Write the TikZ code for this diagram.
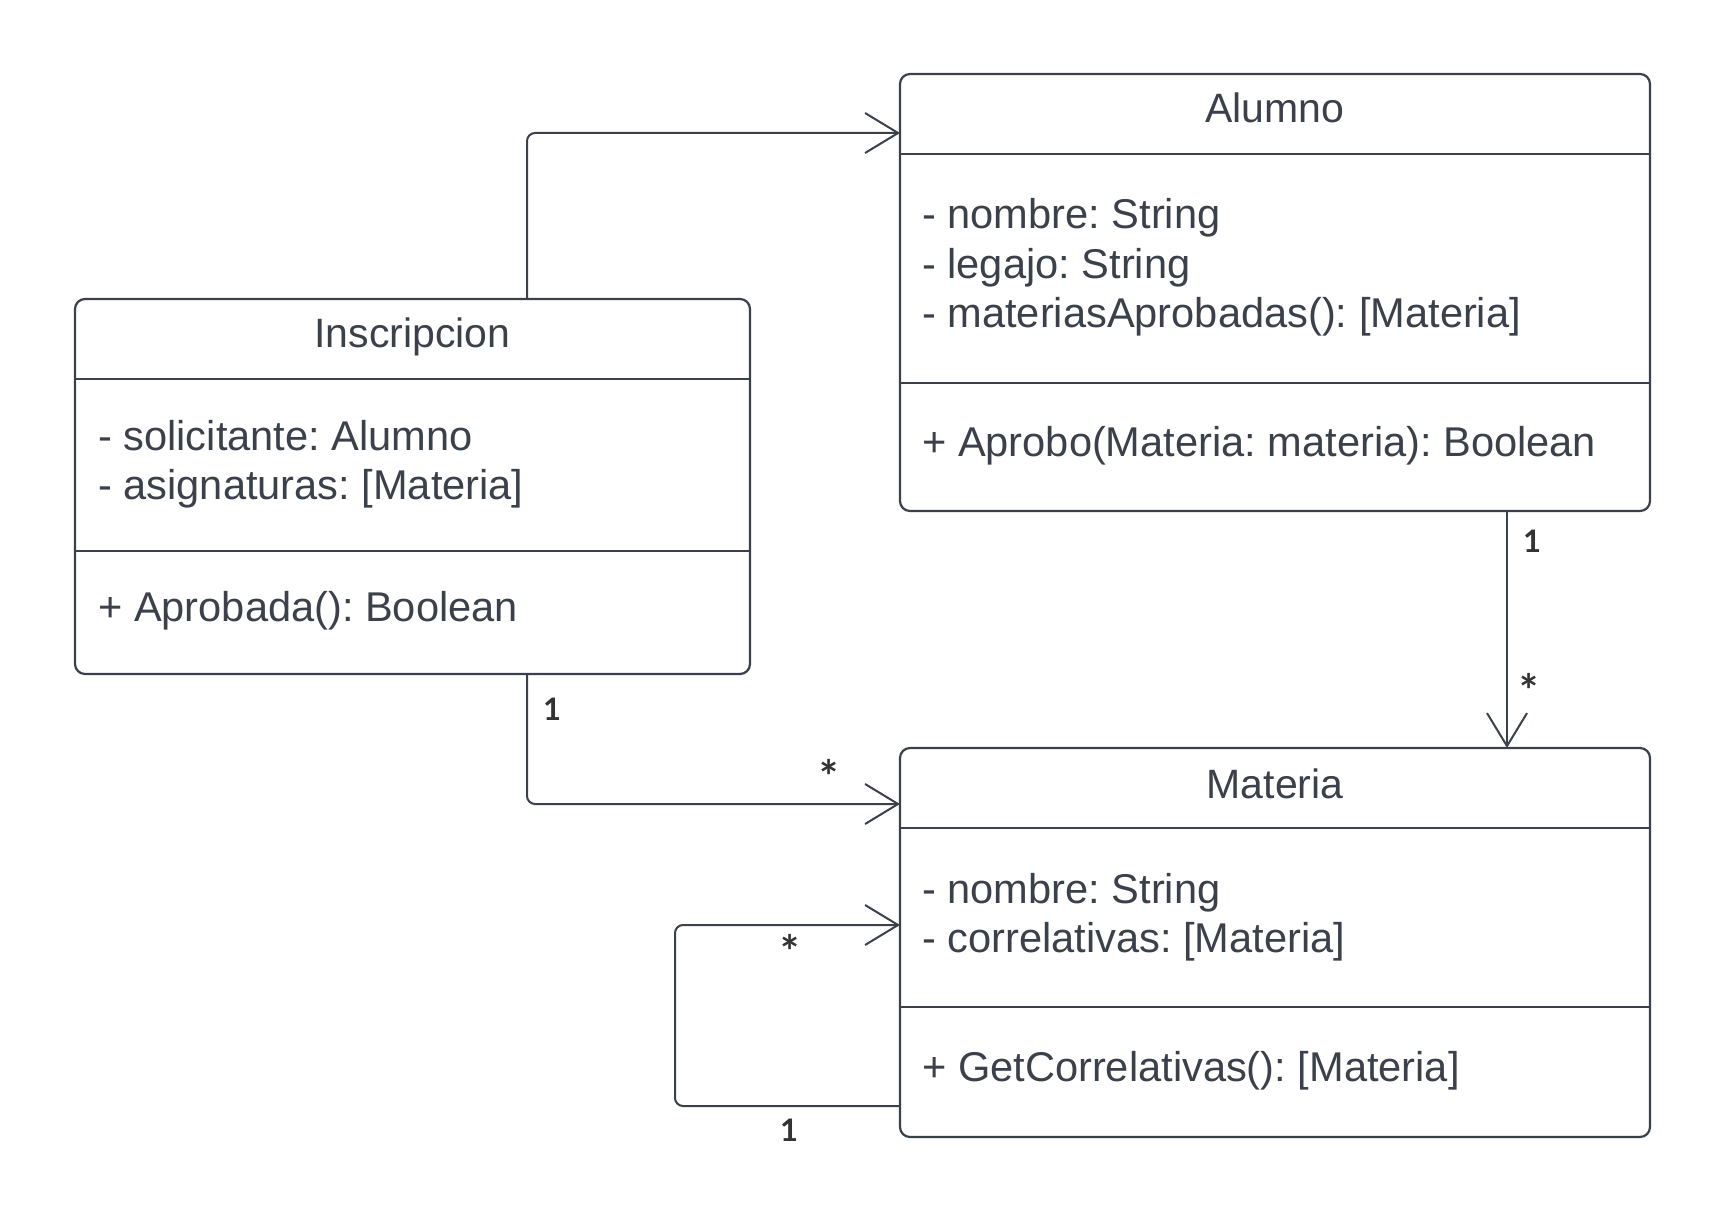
\documentclass[tikz,border=0pt]{standalone}
\usepackage{fontspec}
\setmainfont{Liberation Sans}
\newfontfamily\lblfont{Lato}
\frenchspacing
\usetikzlibrary{arrows.meta}
\definecolor{ink}{HTML}{3A414A}
\definecolor{lbl}{HTML}{333333}
\tikzset{
  classbox/.style={draw=ink, line width=2.2pt, rounded corners=10pt, inner sep=0pt, outer sep=0pt, anchor=north west, fill=white},
  hdrline/.style={draw=ink, line width=1.3pt},
  sepline/.style={draw=ink, line width=2pt},
  ttl/.style={anchor=base, inner sep=0pt, text=ink, font=\fontsize{41}{50}\selectfont},
  attr/.style={anchor=base west, inner sep=0pt, text=ink, font=\fontsize{41.6}{50}\selectfont},
  mult/.style={anchor=base, inner sep=0pt, text=lbl, font=\lblfont\bfseries\fontsize{31}{31}\selectfont},
  star/.style={anchor=base, inner sep=0pt, text=lbl, font=\lblfont\bfseries\fontsize{45}{45}\selectfont},
  assoc/.style={draw=ink, line width=2pt, rounded corners=8pt, -{Straight Barb[length=33pt,width=40pt,line width=2pt]}},
}
\begin{document}
\begin{tikzpicture}[x=1pt,y=-1pt]
\useasboundingbox (0,0) rectangle (1725,1228);
\fill[white] (0,0) rectangle (1725,1228);

% classes
\node[classbox, minimum width=750pt, minimum height=437pt] (alumno) at (900,74) {};
\node[classbox, minimum width=675pt, minimum height=375pt] (insc) at (75,299) {};
\node[classbox, minimum width=750pt, minimum height=389pt] (materia) at (900,748) {};

% helper coordinates
\coordinate (yA1) at (0,154); \coordinate (yA2) at (0,383);
\coordinate (yI1) at (0,379); \coordinate (yI2) at (0,551);
\coordinate (yM1) at (0,828); \coordinate (yM2) at (0,1007);

\draw[hdrline] (alumno.west |- yA1) -- (alumno.east |- yA1);
\draw[sepline] (alumno.west |- yA2) -- (alumno.east |- yA2);
\draw[hdrline] (insc.west |- yI1) -- (insc.east |- yI1);
\draw[sepline] (insc.west |- yI2) -- (insc.east |- yI2);
\draw[hdrline] (materia.west |- yM1) -- (materia.east |- yM1);
\draw[sepline] (materia.west |- yM2) -- (materia.east |- yM2);

% Alumno texts
\node[ttl] (alumnoT) at (1275,123) {Alumno};
\node[attr] (alumnoA1) at (922,228) {- nombre: String};
\node[attr] (alumnoA2) at (922,278) {- legajo: String};
\node[attr] (alumnoA3) at (922,327) {- materiasAprobadas(): [Materia]};
\node[attr] (alumnoM1) at (922,456) {+ Aprobo(Materia: materia): Boolean};

% Inscripcion texts
\node[ttl] (inscT) at (412.5,347) {Inscripcion};
\node[attr] (inscA1) at (98,450) {- solicitante: Alumno};
\node[attr] (inscA2) at (98,499) {- asignaturas: [Materia]};
\node[attr] (inscM1) at (98,621) {+ Aprobada(): Boolean};

% Materia texts
\node[ttl] (materiaT) at (1275,798) {Materia};
\node[attr] (materiaA1) at (922,903) {- nombre: String};
\node[attr] (materiaA2) at (922,952) {- correlativas: [Materia]};
\node[attr] (materiaM1) at (922,1081) {+ GetCorrelativas(): [Materia]};

% connectors
\coordinate (y133) at (0,133);
\coordinate (y804) at (0,804);
\coordinate (y925) at (0,925);
\coordinate (y1106) at (0,1106);
\coordinate (loopx) at (675,0);

\draw[assoc] ([xshift=452pt]insc.north west) |- (alumno.west |- y133);
\draw[assoc] ([xshift=607pt]alumno.south west) -- ([xshift=607pt]materia.north west);
\draw[assoc] ([xshift=452pt]insc.south west) |- (materia.west |- y804);
\draw[assoc] (materia.west |- y1106) -- (loopx |- y1106) -- (loopx |- y925) -- (materia.west |- y925);

% multiplicities
\node[mult] (m1) at (1532,552) {1};
\node[star] (m2) at (1529,707) {*};
\node[mult] (m3) at (552,720) {1};
\node[star] (m4) at (829,793) {*};
\node[star] (m5) at (790,968) {*};
\node[mult] (m6) at (789,1141) {1};
\end{tikzpicture}
\end{document}
